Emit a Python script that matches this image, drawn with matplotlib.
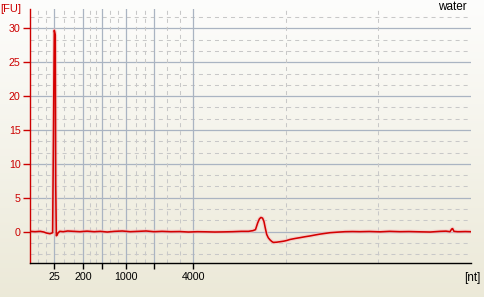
import numpy as np
import matplotlib
matplotlib.use("Agg")
import matplotlib.pyplot as plt

# ---- data ----
time_s = [19.0, 19.6, 20.2, 20.6, 20.9, 21.3, 21.6, 21.66, 21.79, 21.90, 21.95, 22.02, 22.10,
          22.2, 22.4, 22.8, 23.3, 24.0, 24.7, 25.5, 26.3, 27.0, 27.8, 28.6, 29.5, 30.4,
          31.3, 32.2, 33.1, 34.0, 35.0, 36.0, 37.0, 38.0, 39.0, 40.0, 41.0, 42.0, 43.0,
          43.8, 44.3, 44.6, 44.85, 45.05, 45.22, 45.4, 45.56, 45.7, 45.87, 46.05, 46.24,
          46.45, 46.62, 47.0, 47.38, 47.8, 48.14, 48.51, 49.1, 49.65, 50.2, 50.78, 51.3,
          51.91, 52.5, 53.05, 53.9, 54.75, 55.6, 56.45, 57.5, 58.72, 59.8, 60.98, 62.0,
          63.25, 64.4, 65.52, 66.2, 66.65, 66.85, 66.95, 67.1, 67.5, 67.78, 68.4, 68.96]
fu = [0.05, 0.0, 0.05, -0.05, -0.2, -0.3, -0.15, 9.1, 29.7, 29.0, 6.9, -0.6, -0.5,
      -0.2, 0.05, 0.0, 0.1, 0.05, 0.0, 0.08, 0.0, 0.05, -0.05, 0.05, 0.1, 0.0,
      0.05, 0.1, 0.0, 0.05, 0.0, 0.02, -0.05, 0.0, -0.02, -0.05, -0.03, 0.0, 0.05,
      0.05, 0.15, 0.3, 1.3, 1.9, 2.1, 2.0, 1.5, 0.6, -0.4, -0.9, -1.2,
      -1.45, -1.58, -1.55, -1.48, -1.4, -1.3, -1.15, -1.0, -0.88, -0.75, -0.63, -0.5,
      -0.36, -0.25, -0.15, -0.07, 0.0, 0.02, 0.0, 0.03, -0.02, 0.05, 0.0, 0.02,
      -0.02, -0.05, 0.05, 0.08, 0.0, 0.4, 0.45, 0.05, 0.0, 0.0, 0.02, 0.0]

ladder_time = [21.79, 25.08, 27.23, 29.95, 33.13, 37.55]
ladder_nt = ["25", "200", "", "1000", "", "4000"]
y_ticks = [0, 5, 10, 15, 20, 25, 30]
sample_name = "water"

X_MIN, X_MAX = 19.0, 69.0
Y_MIN, Y_MAX = -4.62, 32.85

W, H = 485, 297
fig = plt.figure(figsize=(W / 100, H / 100), dpi=100)

# background gradient
bg = fig.add_axes([0, 0, 1, 1], zorder=-10)
top = np.array([0.992, 0.992, 0.988])
bot = np.array([0.925, 0.914, 0.847])
g = np.linspace(0, 1, 256)[:, None]
img = top[None, None, :] * (1 - g[:, :, None]) + bot[None, None, :] * g[:, :, None]
img = np.repeat(img, 2, axis=1)
bg.imshow(img, aspect="auto", extent=[0, 1, 0, 1])
bg.axis("off")

L, R = 29.7 / W, 470.7 / W
B, T = 1 - 263 / H, 1 - 9 / H
ax = fig.add_axes([L, B, R - L, T - B])
ax.set_facecolor("none")
ax.set_xlim(X_MIN, X_MAX)
ax.set_ylim(Y_MIN, Y_MAX)

major_col = "#aab4c2"
minor_col = "#c8c8c8"

# horizontal grid
for v in np.arange(-5, 35.1, 5):
    if Y_MIN < v < Y_MAX:
        ax.axhline(v, color=major_col, lw=0.9, zorder=1)
    for k in (1, 2):
        m = v + 5 * k / 3
        if Y_MIN < m < Y_MAX:
            ax.axhline(m, color=minor_col, lw=0.75, dashes=(3.85, 3.85), zorder=1)

# vertical grid
for t in ladder_time:
    ax.axvline(t, color=major_col, lw=0.9, zorder=1)
bounds = [X_MIN] + ladder_time + [X_MAX]
for a, b in zip(bounds[:-1], bounds[1:]):
    for k in (1, 2):
        ax.axvline(a + (b - a) * k / 3, color=minor_col, lw=0.75, dashes=(3.85, 3.85), zorder=1)

# trace
ax.plot(time_s, fu, color="#f6c0c0", lw=2.8, alpha=0.6, zorder=2)
ax.plot(time_s, fu, color="#d40000", lw=1.15, zorder=3)

# spines
for s in ("top", "right"):
    ax.spines[s].set_visible(False)
ax.spines["left"].set_color("#cc0000")
ax.spines["left"].set_linewidth(1.0)
ax.spines["bottom"].set_color("black")
ax.spines["bottom"].set_linewidth(1.0)

fam = ["Liberation Sans", "DejaVu Sans"]
ax.set_yticks(y_ticks)
ax.set_yticklabels([str(v) for v in y_ticks], color="#cc0000", family=fam, fontsize=7.7)
ax.tick_params(axis="y", colors="#cc0000", length=5.4, width=1, pad=1.2)
ax.set_xticks(ladder_time)
ax.set_xticklabels(ladder_nt, family=fam, fontsize=7.7, color="black")
ax.tick_params(axis="x", colors="black", length=4.3, width=1, pad=2.5)
for lab in ax.get_xticklabels():
    lab.set_color("black")

fig.text(0.5 / W, 1 - 9.5 / H, "[FU]", color="#cc0000", family=fam, fontsize=8,
         ha="left", va="center")
fig.text(467 / W, 1 - 7.5 / H, sample_name, color="black", family=fam, fontsize=8.5,
         ha="right", va="center")
fig.text(480.5 / W, 1 - 278 / H, "[nt]", color="black", family=fam, fontsize=8.5,
         ha="right", va="center")

fig.savefig("out.png", dpi=100)
